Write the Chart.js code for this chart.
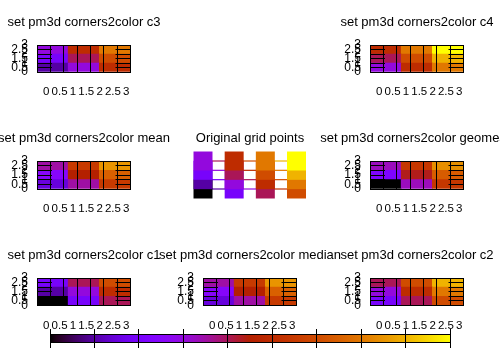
<!DOCTYPE html>
<html>
<head>
<meta charset="utf-8">
<script src="https://cdn.jsdelivr.net/npm/chart.js@4.4.1/dist/chart.umd.min.js"></script>
<style>
  html, body { margin: 0; padding: 0; background: #fff; }
  #page { position: relative; width: 500px; height: 350px; overflow: hidden; background: #fff; }
  #page canvas { position: absolute; }
</style>
</head>
<body>
<div id="page"></div>
<script>
// grid points and their z values, one array per y row
const gridX = [0, 1, 2, 3];
const gridY = [0, 1, 2, 3];
const zRow0 = [0, 2, 4, 6];
const zRow1 = [1, 3, 5, 7];
const zRow2 = [2, 4, 6, 8];
const zRow3 = [3, 5, 7, 9];
const zRows = [zRow0, zRow1, zRow2, zRow3];
const axisTicks = [0, 0.5, 1, 1.5, 2, 2.5, 3];
const cbTicks = [0, 1, 2, 3, 4, 5, 6, 7, 8, 9];
const modes = ['c3', 'c4', 'mean', 'geomean', 'c1', 'median', 'c2'];
const gridTitle = 'Original grid points';

// layout (pixels)
const colLeft = [37, 203, 370];
const rowTop = [45, 161, 278];
const rowH = [27, 28, 27.5];
const plotW = 93.5;
const slots = [[0, 0], [2, 0], [0, 1], [2, 1], [0, 2], [1, 2], [2, 2]];
const gridSlot = [1, 1];

Chart.defaults.font.family = "'Liberation Sans', Arial, sans-serif";
Chart.defaults.font.size = 12;
Chart.defaults.color = '#000';

const page = document.getElementById('page');
const cbMax = cbTicks[cbTicks.length - 1];

// gnuplot default palette (rgbformulae 7,5,15)
function palette(f) {
  const r = Math.sqrt(f), g = f * f * f, b = Math.max(0, Math.sin(2 * Math.PI * f));
  return 'rgb(' + Math.round(r * 255) + ',' + Math.round(g * 255) + ',' + Math.round(b * 255) + ')';
}

function cellValue(mode, i, j) {
  const c = [zRows[j][i], zRows[j][i + 1], zRows[j + 1][i], zRows[j + 1][i + 1]];
  switch (mode) {
    case 'c1': return c[0];
    case 'c2': return c[1];
    case 'c3': return c[2];
    case 'c4': return c[3];
    case 'mean': return (c[0] + c[1] + c[2] + c[3]) / 4;
    case 'geomean': return Math.pow(c[0] * c[1] * c[2] * c[3], 0.25);
    case 'median': {
      const s = c.slice().sort((a, b) => a - b);
      return (s[1] + s[2]) / 2;
    }
  }
}

function addCanvas(left, top, w, h) {
  const c = document.createElement('canvas');
  c.width = w; c.height = h;
  c.style.left = left + 'px'; c.style.top = top + 'px';
  c.style.width = w + 'px'; c.style.height = h + 'px';
  page.appendChild(c);
  return c;
}

const CW = 300, CH = 102, TOP_OFF = 34, SIDE = 103;
const setTicks = list => s => { s.ticks = list.map(v => ({ value: v })); };
const plain = v => String(v);

function frameScales(hidden, bottomH) {
  const ink = hidden ? 'rgba(0,0,0,0)' : '#000';
  const font = { size: 11.5, lineHeight: 1 };
  const rightW = CW - SIDE - plotW;
  return {
    x: {
      type: 'linear', position: 'bottom', min: 0, max: 3,
      afterBuildTicks: setTicks(axisTicks),
      // labels hang past the ends; keep them from squeezing the axis
      afterFit: s => { s.height = bottomH; s.paddingLeft = 0; s.paddingRight = 0; },
      grid: { color: ink, drawTicks: false, z: 1 }, border: { color: ink, z: 2 },
      ticks: { display: !hidden, autoSkip: false, maxRotation: 0, minRotation: 0, padding: 14.5, labelOffset: 2.5, font, callback: plain }
    },
    xt: {
      type: 'linear', position: 'top', min: 0, max: 3,
      afterFit: s => { s.height = 0; },
      grid: { color: ink, drawOnChartArea: false, drawTicks: false, z: 1 }, border: { color: ink, z: 2 },
      ticks: { display: false }
    },
    y: {
      type: 'linear', position: 'left', min: 0, max: 3,
      afterBuildTicks: setTicks(axisTicks), afterFit: s => { s.width = SIDE; },
      grid: { color: ink, drawOnChartArea: false, tickLength: -15, z: 1 }, border: { color: ink, z: 2 },
      ticks: { display: !hidden, autoSkip: false, padding: 24, font: { size: 12, lineHeight: 1 }, callback: plain }
    },
    y2: {
      type: 'linear', position: 'right', min: 0, max: 3,
      afterBuildTicks: setTicks(axisTicks), afterFit: s => { s.width = rightW; },
      grid: { color: ink, drawOnChartArea: false, tickLength: -15, z: 1 }, border: { color: ink, z: 2 },
      ticks: { display: false }
    }
  };
}

function baseOptions(title, scales) {
  return {
    responsive: false, animation: false, events: [],
    layout: { padding: { top: 5, bottom: 0, left: 0, right: 0 } },
    plugins: {
      legend: { display: false }, tooltip: { enabled: false },
      title: {
        display: true, text: title, color: '#000',
        font: { size: 13, weight: 'normal', lineHeight: 1 },
        padding: { top: 0, bottom: 16 }
      }
    },
    scales
  };
}

// corners2color panels
const cellLabels = gridX.slice(1).map((x, i) => gridX[i] + '-' + x);
modes.forEach((mode, k) => {
  const [col, row] = slots[k];
  const canvas = addCanvas(colLeft[col] - SIDE, rowTop[row] - TOP_OFF, CW, CH);
  const datasets = [];
  for (let j = 0; j < gridY.length - 1; j++) {
    datasets.push({
      data: cellLabels.map(() => [gridY[j], gridY[j + 1]]),
      backgroundColor: cellLabels.map((_, i) => palette(cellValue(mode, i, j) / cbMax)),
      xAxisID: 'xc', yAxisID: 'y',
      grouped: false, barPercentage: 1, categoryPercentage: 1, borderWidth: 0
    });
  }
  const scales = frameScales(false, CH - TOP_OFF - rowH[row]);
  scales.xc = { type: 'category', display: false, offset: true };
  new Chart(canvas, {
    type: 'bar',
    data: { labels: cellLabels, datasets },
    options: baseOptions('set pm3d corners2color ' + mode, scales)
  });
});

// original grid points
(function() {
  const [col, row] = gridSlot;
  const canvas = addCanvas(colLeft[col] - SIDE, rowTop[row] - TOP_OFF, CW, CH);
  const datasets = [];
  for (let j = gridY.length - 1; j >= 0; j--) {
    const zs = zRows[j];
    datasets.push({
      data: gridX.map(x => ({ x, y: gridY[j] })),
      showLine: true, borderWidth: 1.2, clip: false,
      segment: { borderColor: c => palette((zs[c.p0DataIndex] + zs[c.p1DataIndex]) / 2 / cbMax) },
      pointStyle: 'rect', pointRadius: 13.43, pointBorderWidth: 0,
      pointBackgroundColor: zs.map(v => palette(v / cbMax))
    });
  }
  new Chart(canvas, {
    type: 'scatter',
    data: { datasets },
    options: baseOptions(gridTitle, frameScales(true, CH - TOP_OFF - rowH[row]))
  });
})();

// colour box
function cbFill(ctx) {
  const chart = ctx.chart;
  const x = chart.scales.x;
  if (!x || !chart.chartArea) return '#000';
  const a = x.getPixelForValue(cbTicks[0]), b = x.getPixelForValue(cbMax);
  const grad = chart.ctx.createLinearGradient(a, 0, b, 0);
  for (let k = 0; k <= 64; k++) grad.addColorStop(k / 64, palette(k / 64));
  return grad;
}
new Chart(addCanvas(0, 300, 500, 50), {
  type: 'bar',
  data: { labels: ['cb'], datasets: [{
    data: [[cbTicks[0], cbMax]], backgroundColor: cbFill,
    borderWidth: 0, barPercentage: 1, categoryPercentage: 1
  }] },
  options: {
    indexAxis: 'y', responsive: false, animation: false, events: [],
    layout: { padding: { left: 50, right: 50, top: 29, bottom: 0 } },
    plugins: { legend: { display: false }, tooltip: { enabled: false } },
    scales: {
      y: { display: false },
      x: {
        type: 'linear', min: cbTicks[0], max: cbMax,
        afterBuildTicks: setTicks(cbTicks), afterFit: s => { s.height = 8; },
        grid: { color: '#000', tickLength: 6, z: 1 }, border: { color: '#000', z: 2 },
        ticks: { display: false }
      },
      xt: {
        type: 'linear', position: 'top', min: cbTicks[0], max: cbMax,
        afterBuildTicks: setTicks(cbTicks), afterFit: s => { s.height = 5; },
        grid: { color: '#000', tickLength: 5, drawOnChartArea: false, z: 1 }, border: { color: '#000', z: 2 },
        ticks: { display: false }
      }
    }
  }
});
</script>
</body>
</html>
